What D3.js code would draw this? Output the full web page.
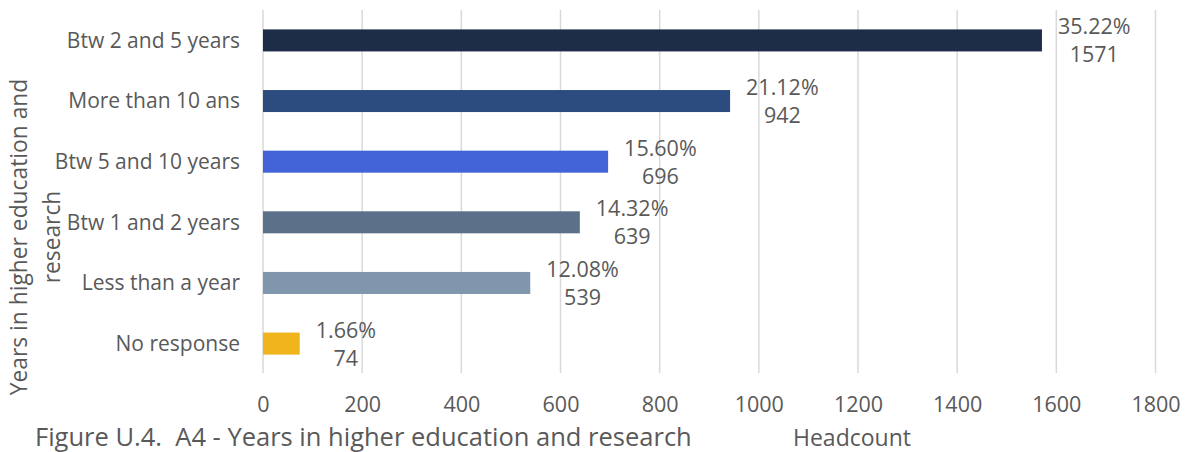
<!DOCTYPE html>
<html>
<head>
<meta charset="utf-8">
<script src="https://cdn.jsdelivr.net/npm/d3@7"></script>
<style>
  html, body { margin: 0; padding: 0; background: #fff; }
  svg { display: block; }
  text { font-family: "Open Sans", "Noto Sans", sans-serif; fill: #595959; }
</style>
</head>
<body>
<svg id="chart" width="1189" height="452"></svg>
<script>
// Years in higher education and research, headcount per answer
const categories = ["Btw 2 and 5 years", "More than 10 ans", "Btw 5 and 10 years", "Btw 1 and 2 years", "Less than a year", "No response"];
const headcounts = [1571, 942, 696, 639, 539, 74];
const shares = ["35.22%", "21.12%", "15.60%", "14.32%", "12.08%", "1.66%"];
const barColors = ["#1e2d47", "#2c4c7f", "#4363d8", "#5b7089", "#7f96ad", "#f0b51c"];
const xTicks = [0, 200, 400, 600, 800, 1000, 1200, 1400, 1600, 1800];

const svg = d3.select("#chart");
const plotLeft = 263, plotRight = 1155.5, plotTop = 10, plotBottom = 374;

const x = d3.scaleLinear().domain([0, 1800]).range([plotLeft, plotRight]);
const y = d3.scaleBand().domain(categories).range([plotTop, plotBottom])
  .paddingInner(0.637).paddingOuter(0.32);

// vertical gridlines
svg.append("g").selectAll("line").data(xTicks).join("line")
  .attr("x1", d => x(d)).attr("x2", d => x(d))
  .attr("y1", plotTop).attr("y2", 373)
  .attr("stroke", "#d9d9d9").attr("stroke-width", 1.5);

// x tick labels
const xAxis = d3.axisBottom(x).tickValues(xTicks).tickFormat(d3.format("d"))
  .tickSize(0).tickPadding(0);
const gx = svg.append("g").attr("transform", `translate(0,${412})`).call(xAxis);
gx.select(".domain").remove();
gx.selectAll("text").attr("dy", 0).style("font-size", "21.5px")
  .style("font-family", "'Open Sans', sans-serif").attr("fill", "#595959");

// category labels
const yAxis = d3.axisLeft(y).tickSize(0).tickPadding(0);
const gy = svg.append("g").attr("transform", `translate(${240},0)`).call(yAxis);
gy.select(".domain").remove();
gy.selectAll("text").attr("dy", "0.35em").style("font-size", "21px")
  .style("font-family", "'Open Sans', sans-serif").attr("fill", "#595959");

// bars
svg.append("g").selectAll("rect").data(categories).join("rect")
  .attr("x", x(0))
  .attr("y", d => y(d))
  .attr("width", (d, i) => x(headcounts[i]) - x(0))
  .attr("height", y.bandwidth())
  .attr("fill", (d, i) => barColors[i]);

// value labels: share on top line, headcount below, centred in one block
const labels = svg.append("g").selectAll("g").data(categories).join("g");
labels.each(function (d, i) {
  const g = d3.select(this);
  const cy = y(d) + y.bandwidth() / 2;
  const pct = g.append("text").attr("y", cy - 6).style("font-size", "21.5px").text(shares[i]);
  const w = pct.node().getComputedTextLength();
  const cx = x(headcounts[i]) + 16 + w / 2;
  pct.attr("x", cx).attr("text-anchor", "middle");
  g.append("text").attr("x", cx).attr("y", cy + 22).attr("text-anchor", "middle")
    .style("font-size", "21.5px").text(headcounts[i]);
});

// axis titles
const yTitle = svg.append("text").attr("transform", "translate(0,237) rotate(-90)")
  .attr("text-anchor", "middle").style("font-size", "22.8px");
yTitle.append("tspan").attr("x", 0).attr("y", 27).text("Years in higher education and");
yTitle.append("tspan").attr("x", 0).attr("y", 60).text("research");

svg.append("text").attr("x", 852).attr("y", 446).attr("text-anchor", "middle")
  .style("font-size", "23px").text("Headcount");

// figure caption
svg.append("text").attr("x", 35).attr("y", 446).style("font-size", "25.5px")
  .style("white-space", "pre")
  .text("Figure U.4.  A4 - Years in higher education and research");
</script>
</body>
</html>
